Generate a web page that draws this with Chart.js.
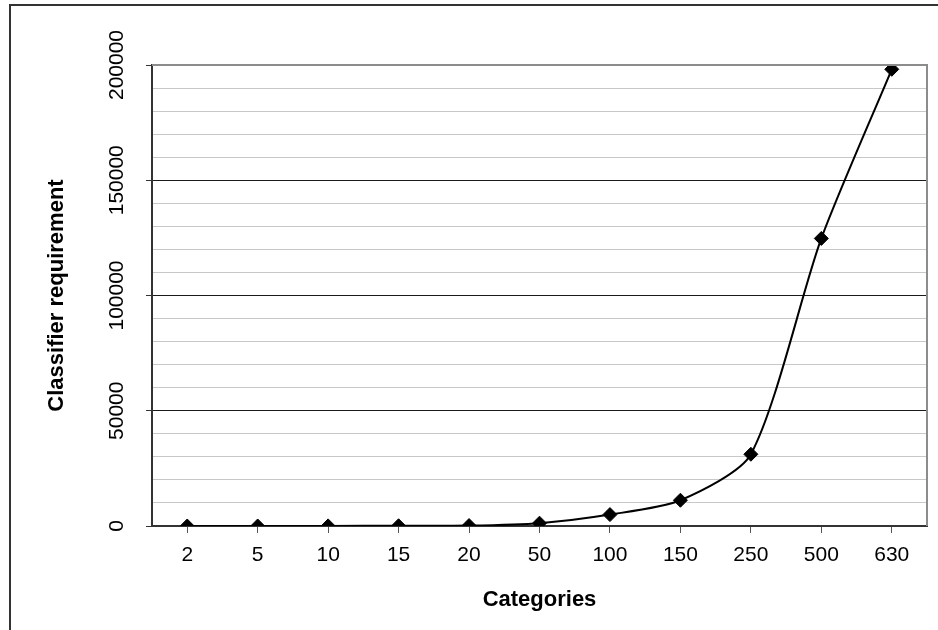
<!DOCTYPE html>
<html>
<head>
    <meta charset="UTF-8">
    <title>Classifier requirement</title>
    <script src="https://cdn.jsdelivr.net/npm/chart.js@4.4.0/dist/chart.umd.min.js"></script>
    <style>
        html, body {
            margin: 0;
            padding: 0;
            background: white;
            overflow: hidden;
        }
        .wrap {
            position: relative;
            width: 938px;
            height: 630px;
        }
        .frame {
            position: absolute;
            left: 9px;
            top: 4px;
            right: -20px;
            bottom: -20px;
            border: 2px solid #333;
            pointer-events: none;
        }
    </style>
</head>
<body>
<div class="wrap">
    <canvas id="chart" width="938" height="630"></canvas>
    <div class="frame"></div>
</div>

<script>
    const categories = ['2', '5', '10', '15', '20', '50', '100', '150', '250', '500', '630'];
    const requirement = [1, 10, 45, 105, 190, 1225, 4950, 11175, 31125, 124750, 198135];
    const yTicks = [0, 50000, 100000, 150000, 200000];

    const fontFamily = "'Liberation Sans', Arial, sans-serif";

    // gray frame on top/right of plot area, like the old Excel look
    const plotFrame = {
        id: 'plotFrame',
        afterDraw(chart) {
            const {ctx, chartArea} = chart;
            ctx.save();
            ctx.strokeStyle = '#8c8c8c';
            ctx.lineWidth = 2;
            ctx.beginPath();
            ctx.moveTo(chartArea.left, chartArea.top);
            ctx.lineTo(chartArea.right, chartArea.top);
            ctx.lineTo(chartArea.right, chartArea.bottom);
            ctx.stroke();
            ctx.restore();
        }
    };

    const ctx = document.getElementById('chart').getContext('2d');
    const chart = new Chart(ctx, {
        type: 'line',
        data: {
            labels: categories,
            datasets: [{
                label: 'Classifier requirement',
                data: requirement,
                borderColor: '#000',
                borderWidth: 2,
                tension: 0.25,
                pointStyle: 'rectRot',
                pointRadius: 7,
                pointBackgroundColor: '#000',
                pointBorderColor: '#000',
                pointBorderWidth: 1
            }]
        },
        options: {
            responsive: false,
            animation: false,
            layout: {
                padding: { top: 65, right: 11, left: 10, bottom: 0 }
            },
            plugins: {
                legend: { display: false },
                tooltip: { enabled: false }
            },
            scales: {
                x: {
                    offset: true,
                    grid: {
                        drawOnChartArea: false,
                        tickLength: 7,
                        color: '#555'
                    },
                    border: { color: '#333', width: 2 },
                    ticks: {
                        color: '#000',
                        padding: 10,
                        font: { family: fontFamily, size: 21 }
                    },
                    title: {
                        display: true,
                        text: 'Categories',
                        color: '#000',
                        font: { family: fontFamily, size: 22, weight: 'bold' },
                        padding: { top: 0, bottom: 17 }
                    },
                    afterFit(scale) { scale.height = 104; }
                },
                y: {
                    min: 0,
                    max: 200000,
                    ticks: {
                        stepSize: 10000,
                        autoSkip: false,
                        minRotation: 90,
                        maxRotation: 90,
                        crossAlign: 'center',
                        padding: -6,
                        color: '#000',
                        font: { family: fontFamily, size: 21 },
                        callback: v => yTicks.includes(v) ? String(v) : ''
                    },
                    grid: {
                        tickLength: 6,
                        color: c => {
                            const v = c.tick.value;
                            if (v === 200000) return '#8c8c8c';
                            if (v === 0) return '#333';
                            return yTicks.includes(v) ? '#1a1a1a' : '#c8c8c8';
                        },
                        tickColor: c => yTicks.includes(c.tick.value) ? '#333' : 'rgba(0,0,0,0)'
                    },
                    border: { color: '#333', width: 2 },
                    title: {
                        display: true,
                        text: 'Classifier requirement',
                        color: '#000',
                        font: { family: fontFamily, size: 22, weight: 'bold' },
                        padding: { top: 34, bottom: 0 }
                    },
                    afterFit(scale) { scale.width = 142; }
                }
            }
        },
        plugins: [plotFrame]
    });
</script>
</body>
</html>
